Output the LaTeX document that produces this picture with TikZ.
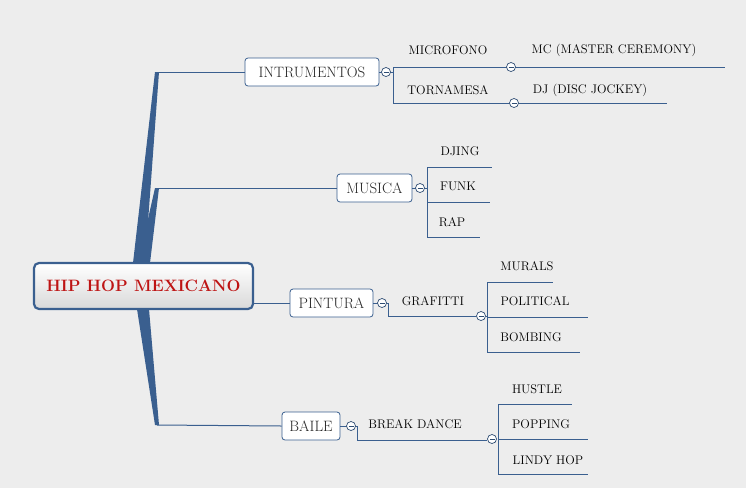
\documentclass[tikz,border=0pt]{standalone}
\begin{document}
\begin{tikzpicture}[x=1pt,y=-1pt,
  ln/.style={draw=lc,line width=1pt},
  box/.style={draw=lc,fill=white,rounded corners=3pt,line width=0.8pt,font=\fontsize{15}{17}\selectfont,text=black!85,inner sep=0pt},
  leaf/.style={font=\fontsize{12.5}{14}\selectfont,text=black,inner sep=0pt},
  tog/.style={circle,draw=lc!80!black,fill=white,minimum size=9pt,inner sep=0pt,line width=0.7pt,path picture={\draw[line width=0.7pt] ([xshift=-2.5pt]path picture bounding box.center)--([xshift=2.5pt]path picture bounding box.center);}}]
\definecolor{lc}{RGB}{58,95,143}
\definecolor{bg}{RGB}{237,237,237}
\fill[bg] (0,0) rectangle (746,488);
\useasboundingbox (0,0) rectangle (746,488);
% trunks
\fill[lc] (133,263) -- (155,72) -- (159,72) -- (145,263) -- cycle;
\fill[lc] (138,263) -- (155,188) -- (159,188) -- (150,263) -- cycle;
\fill[lc] (137,309) -- (155,425) -- (159,425) -- (149,309) -- cycle;
% branch lines
\coordinate (b1) at (157,72); \coordinate (b2) at (157,188); \coordinate (b4) at (157,425);
\node[box,minimum width=134pt,minimum height=28pt] (ins) at (312,72) {INTRUMENTOS};
\node[box,minimum width=75pt,minimum height=28pt] (mus) at (374.5,188) {MUSICA};
\node[box,minimum width=83pt,minimum height=28pt] (pin) at (331.5,303) {PINTURA};
\node[box,minimum width=58pt,minimum height=28pt] (bai) at (311,426) {BAILE};
\draw[ln] (b1) -- (ins.west);
\draw[ln] (b2) -- (mus.west);
\draw[ln] (b4) -- (bai.west);
\node[draw=lc,line width=2.2pt,rounded corners=5pt,top color=white,bottom color=black!15,minimum width=219pt,minimum height=46pt,font=\fontsize{16.5}{19}\selectfont\bfseries,text={rgb,255:red,190;green,20;blue,20}] (root) at (143.5,286) {HIP HOP MEXICANO};
\draw[ln] (root.east |- pin) -- (pin.west);
% INTRUMENTOS
\draw[ln] (ins.east) -- (393,72);
\draw[ln] (393,67) -- (393,103);
\draw[ln] (393,67) -- (725,67);
\draw[ln] (393,103) -- (667,103);
\node[tog] (t1) at (386,72) {};
\node[tog] (t1a) at (511,67) {};
\node[tog] (t1b) at (514,103) {};
\node[leaf] (mic) at (448,50) {MICROFONO};
\node[leaf] (mc) at (614,50) {MC (MASTER CEREMONY)};
\node[leaf] (tor) at (448,90) {TORNAMESA};
\node[leaf] (dj) at (590,90) {DJ (DISC JOCKEY)};
% MUSICA
\draw[ln] (mus.east) -- (427,188);
\draw[ln] (427,167) -- (427,237);
\draw[ln] (427,167) -- (492,167);
\draw[ln] (427,202) -- (490,202);
\draw[ln] (427,237) -- (480,237);
\node[tog] (t2) at (420,188) {};
\node[leaf] (djing) at (460,151) {DJING};
\node[leaf] (funk) at (458,186) {FUNK};
\node[leaf] (rap) at (452,222) {RAP};
% PINTURA
\draw[ln] (pin.east) -- (388,303) -- (388,316) -- (476,316);
\node[tog] (t3) at (382,303) {};
\node[leaf] (gra) at (433,301) {GRAFITTI};
\draw[ln] (487,282) -- (487,352);
\draw[ln] (486,316) -- (487,316);
\draw[ln] (487,282) -- (553,282);
\draw[ln] (487,317) -- (588,317);
\draw[ln] (487,352) -- (580,352);
\node[tog] (t3a) at (481,316) {};
\node[leaf] (mur) at (527,266) {MURALS};
\node[leaf] (pol) at (535,301) {POLITICAL};
\node[leaf] (bom) at (531,337) {BOMBING};
% BAILE
\draw[ln] (bai.east) -- (357,426) -- (357,440) -- (487,440);
\node[tog] (t4) at (351,426) {};
\node[leaf] (brk) at (415,424) {BREAK DANCE};
\draw[ln] (498,404) -- (498,474);
\draw[ln] (498,404) -- (572,404);
\draw[ln] (498,439) -- (588,439);
\draw[ln] (498,474) -- (588,474);
\node[tog] (t4a) at (492,439) {};
\node[leaf] (hus) at (537,389) {HUSTLE};
\node[leaf] (pop) at (541,424) {POPPING};
\node[leaf] (lin) at (548,460) {LINDY HOP};
\end{tikzpicture}
\end{document}
